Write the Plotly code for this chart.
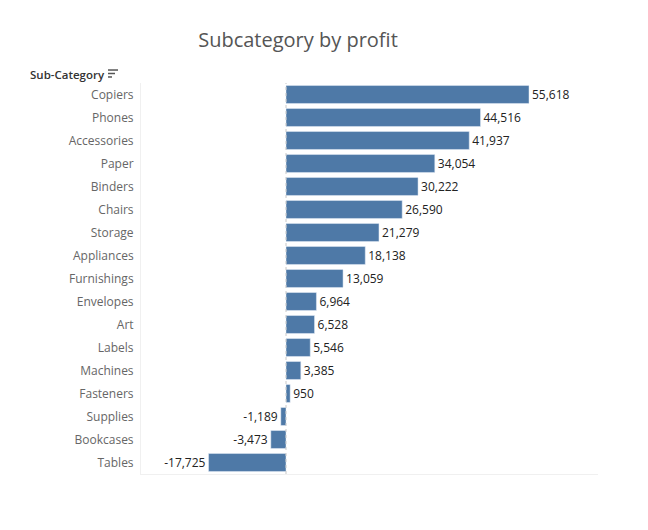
import plotly.graph_objects as go

subcats = ["Copiers", "Phones", "Accessories", "Paper", "Binders", "Chairs", "Storage",
           "Appliances", "Furnishings", "Envelopes", "Art", "Labels", "Machines",
           "Fasteners", "Supplies", "Bookcases", "Tables"]
profit = [55618, 44516, 41937, 34054, 30222, 26590, 21279, 18138, 13059,
          6964, 6528, 5546, 3385, 950, -1189, -3473, -17725]

fig = go.Figure(go.Bar(
    x=profit, y=subcats, orientation="h",
    marker_color="#4e79a7",
    texttemplate="%{x:,}", textposition="outside",
    textfont=dict(size=12, color="#222"),
    cliponaxis=False,
    hovertemplate="%{y}: %{x:,}<extra></extra>",
))

fig.update_layout(
    width=648, height=530,
    margin=dict(l=133, r=58, t=75, b=64),
    plot_bgcolor="white", paper_bgcolor="white",
    font=dict(family="Open Sans, sans-serif", size=12, color="#666"),
    bargap=0.22, showlegend=False,
    title=dict(text="Subcategory by profit", x=0.4475, xanchor="center",
               y=0.94, yanchor="middle", font=dict(size=20, color="#555")),
)
fig.update_xaxes(range=[-33190, 71410], showticklabels=False, showgrid=False,
                 zeroline=False, showline=True, linecolor="#f0f0f0", linewidth=1)
fig.update_yaxes(autorange="reversed", showgrid=False, zeroline=False, ticks="",
                 showline=True, linecolor="#f0f0f0", linewidth=1,
                 ticklabelstandoff=4, tickfont=dict(size=12, color="#666"))

# dashed zero reference line
fig.add_shape(type="line", xref="x", yref="paper", x0=0, x1=0, y0=0, y1=1,
              line=dict(color="#c8c8c8", width=1, dash="dot"))

# header with sort icon
fig.add_annotation(text="Sub-Category", xref="paper", yref="paper", x=-0.247, y=1.023,
                   xanchor="left", yanchor="middle", showarrow=False,
                   font=dict(size=11.5, color="#333", weight=600))
for i, w in enumerate([10, 7, 4]):
    yy = 1.0332 - i * 0.0089
    fig.add_shape(type="line", xref="paper", yref="paper",
                  x0=-0.0722, x1=-0.0722 + w / 457, y0=yy, y1=yy,
                  line=dict(color="#555", width=1.5))

fig.write_html("out.html")
